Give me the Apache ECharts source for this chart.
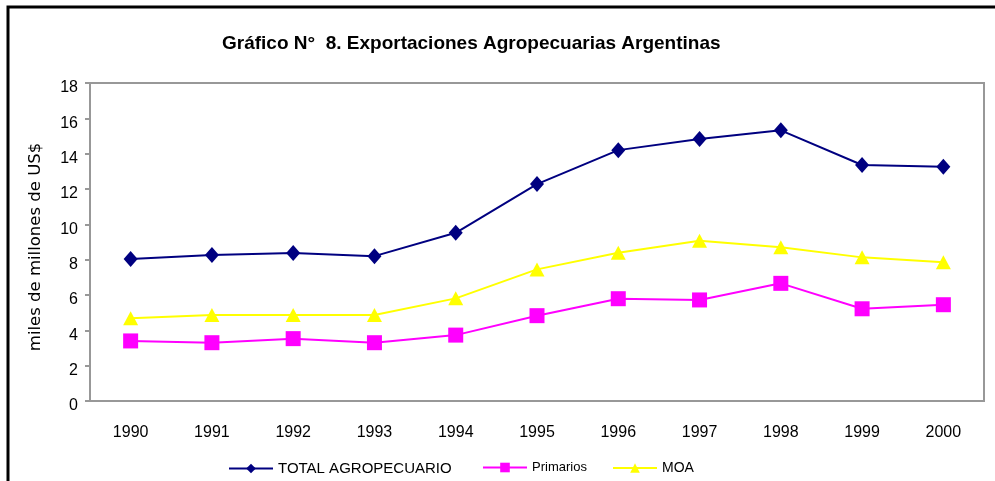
<!DOCTYPE html>
<html>
<head>
<meta charset="utf-8">
<script src="https://cdn.jsdelivr.net/npm/echarts@6/dist/echarts.min.js"></script>
<style>
  html, body { margin: 0; padding: 0; background: #fff; }
  #chart { width: 995px; height: 481px; }
</style>
</head>
<body>
<div id="chart"></div>
<script>
// datos (miles de millones de US$)
const years = ['1990', '1991', '1992', '1993', '1994', '1995', '1996', '1997', '1998', '1999', '2000'];
const totalAgro = [8.04, 8.26, 8.38, 8.2, 9.52, 12.28, 14.2, 14.83, 15.32, 13.36, 13.26];
const primarios = [3.4, 3.3, 3.53, 3.3, 3.73, 4.83, 5.79, 5.72, 6.66, 5.22, 5.45];
const moa = [4.68, 4.87, 4.87, 4.87, 5.81, 7.45, 8.39, 9.07, 8.7, 8.13, 7.85];
const yTicks = [0, 2, 4, 6, 8, 10, 12, 14, 16, 18];

const gray = '#989898';
const chart = echarts.init(document.getElementById('chart'));

const legendBase = {
  top: 461,
  padding: 0,
  itemWidth: 44,
  itemHeight: 12,
  itemGap: 4,
  textStyle: { color: '#000', fontFamily: 'Liberation Sans', fontSize: 15 }
};

const option = {
  animation: false,
  backgroundColor: '#fff',
  title: {
    text: 'Gráfico N°  8. Exportaciones Agropecuarias Argentinas',
    left: 222,
    top: 34,
    padding: 0,
    textStyle: { fontFamily: 'Liberation Sans', fontWeight: 'bold', fontSize: 19, color: '#000' }
  },
  legend: [
    Object.assign({}, legendBase, { left: 228, data: ['TOTAL AGROPECUARIO'] }),
    Object.assign({}, legendBase, { left: 482, data: ['Primarios'],
      textStyle: { color: '#000', fontFamily: 'Liberation Sans', fontSize: 13 } }),
    Object.assign({}, legendBase, { left: 612, data: ['MOA'],
      textStyle: { color: '#000', fontFamily: 'Liberation Sans', fontSize: 14 } })
  ],
  grid: {
    left: 90, right: 11, top: 83, bottom: 80,
    show: true, borderColor: gray, borderWidth: 2
  },
  xAxis: {
    type: 'category',
    data: years,
    boundaryGap: true,
    axisLine: { lineStyle: { color: gray, width: 2 } },
    axisTick: { length: 5, lineStyle: { color: gray, width: 2 } },
    axisLabel: { color: '#000', fontFamily: 'Liberation Sans', fontSize: 16, margin: 24 }
  },
  yAxis: {
    type: 'value',
    min: 0,
    max: yTicks[yTicks.length - 1],
    interval: yTicks[1] - yTicks[0],
    name: 'miles de millones de US$',
    nameLocation: 'middle',
    nameGap: 46,
    nameTextStyle: { color: '#000', fontFamily: 'DejaVu Sans', fontSize: 16.5, padding: [0, 10, 0, 0] },
    axisLine: { show: true, lineStyle: { color: gray, width: 2 } },
    axisTick: { show: true, length: 5, lineStyle: { color: gray, width: 2 } },
    splitLine: { show: false },
    axisLabel: {
      color: '#000', fontFamily: 'Liberation Sans', fontSize: 16, margin: 12,
      verticalAlign: 'top', lineHeight: 10
    }
  },
  series: [
    {
      name: 'TOTAL AGROPECUARIO',
      type: 'line',
      data: totalAgro,
      symbol: 'diamond',
      symbolSize: [14, 16],
      color: '#000080',
      lineStyle: { width: 2, color: '#000080' },
      itemStyle: { color: '#000080' },
      z: 3
    },
    {
      name: 'Primarios',
      type: 'line',
      data: primarios,
      symbol: 'rect',
      symbolSize: 15,
      color: '#ff00ff',
      lineStyle: { width: 2, color: '#ff00ff' },
      itemStyle: { color: '#ff00ff' },
      z: 2
    },
    {
      name: 'MOA',
      type: 'line',
      data: moa,
      symbol: 'triangle',
      symbolSize: [15, 14],
      color: '#ffff00',
      lineStyle: { width: 2, color: '#ffff00' },
      itemStyle: { color: '#ffff00' },
      z: 2
    }
  ],
  graphic: [
    {
      type: 'polyline',
      shape: { points: [[8, 481], [8, 7], [995, 7]] },
      style: { stroke: '#000', lineWidth: 3, fill: null },
      silent: true
    }
  ]
};

chart.setOption(option);
</script>
</body>
</html>
